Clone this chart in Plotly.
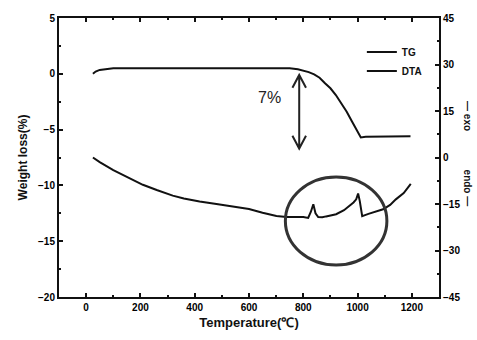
import plotly.graph_objects as go

# TG (weight loss, left axis)
tg_temp = [25, 35, 50, 75, 100, 150, 200, 300, 400, 500, 600, 650, 700, 750, 780, 800, 820, 840, 860,
           880, 900, 920, 940, 960, 980, 1000, 1012, 1030, 1100, 1150, 1195]
tg_weight = [0.0, 0.2, 0.35, 0.45, 0.5, 0.5, 0.5, 0.5, 0.5, 0.5, 0.52, 0.55, 0.55, 0.5, 0.4, 0.3, 0.15,
             -0.05, -0.35, -0.85, -1.3, -1.9, -2.6, -3.4, -4.3, -5.2, -5.7, -5.65, -5.6, -5.6, -5.6]

# DTA (right axis)
dta_temp = [25, 50, 100, 150, 209, 260, 319, 360, 418, 480, 540, 600, 650, 701, 738, 770, 800, 818, 828,
            837, 845, 855, 870, 884, 921, 950, 969, 985, 995, 1002, 1008, 1017, 1040, 1070, 1094, 1120,
            1141, 1170, 1196]
dta_value = [0, -1.5, -4.1, -6.3, -8.8, -10.5, -12.3, -13.2, -14.2, -15.0, -15.7, -16.6, -17.8, -18.9,
             -19.2, -19.3, -19.2, -19.5, -17.5, -15.1, -18.0, -19.2, -19.3, -19.0, -18.3, -17.0, -15.7,
             -14.5, -13.5, -11.6, -14.0, -18.9, -18.2, -17.4, -16.7, -15.3, -13.5, -11.5, -8.5]

x_ticks = [0, 200, 400, 600, 800, 1000, 1200]
y_ticks = [5, 0, -5, -10, -15, -20]
y2_ticks = [45, 30, 15, 0, -15, -30, -45]

BOLD = dict(family="Liberation Sans", size=10, color="#000", weight="bold")

fig = go.Figure()
fig.add_trace(go.Scatter(x=tg_temp, y=tg_weight, mode="lines", name="TG",
                         line=dict(color="#111", width=2)))
fig.add_trace(go.Scatter(x=dta_temp, y=dta_value, mode="lines", name="DTA", yaxis="y2",
                         line=dict(color="#111", width=2)))

# circle around DTA peaks
fig.add_shape(type="circle", xref="x", yref="y2", x0=734, x1=1108, y0=-34.7, y1=-6.3,
              line=dict(color="#333", width=3))
# double arrow (7%)
fig.add_shape(type="path", xref="x", yref="y",
              path="M 785,-0.1 L 785,-6.7 M 760,-1.25 L 785,-0.1 L 810,-1.25 "
                   "M 760,-5.55 L 785,-6.7 L 810,-5.55",
              line=dict(color="#222", width=2))
fig.add_annotation(x=675, y=-2.1, xref="x", yref="y", text="7%", showarrow=False,
                   font=dict(family="Liberation Sans", size=16, color="#222"))

fig.add_annotation(x=1.095, y=0.65, xref="paper", yref="paper", text="— exo", textangle=90,
                   showarrow=False, font=dict(family="Liberation Sans", size=10, color="#111", weight="bold"))
fig.add_annotation(x=1.095, y=0.39, xref="paper", yref="paper", text="endo —", textangle=90,
                   showarrow=False, font=dict(family="Liberation Sans", size=10, color="#111", weight="bold"))

axis_common = dict(showgrid=False, zeroline=False, showline=True, linecolor="#111", linewidth=2,
                   ticks="inside", ticklen=4, tickcolor="#111", tickwidth=1.5, tickfont=BOLD)

fig.update_layout(
    width=477, height=340,
    margin=dict(l=59, r=38, t=14, b=40),
    paper_bgcolor="white", plot_bgcolor="white",
    showlegend=True,
    legend=dict(x=0.797, y=0.93, xanchor="left", yanchor="top", bgcolor="rgba(0,0,0,0)",
                font=dict(family="Liberation Sans", size=10, color="#111", weight="bold"),
                tracegroupgap=0, itemwidth=30),
    xaxis=dict(range=[-100, 1300], tickvals=x_ticks, mirror="ticks",
               minor=dict(dtick=100, ticks="inside", ticklen=2, tickcolor="#111"),
               title=dict(text="Temperature(℃)", standoff=6,
                          font=dict(family="Liberation Sans", size=13, color="#111", weight="bold")),
               **axis_common),
    yaxis=dict(range=[-20, 5], tickvals=y_ticks,
               minor=dict(dtick=2.5, ticks="inside", ticklen=2, tickcolor="#111"),
               title=dict(text="Weight loss(%)", standoff=8,
                          font=dict(family="Liberation Sans", size=12, color="#111", weight="bold")),
               **axis_common),
    yaxis2=dict(range=[-45, 45], tickvals=y2_ticks, overlaying="y", side="right",
                minor=dict(dtick=7.5, ticks="inside", ticklen=2, tickcolor="#111"),
                **axis_common),
)

fig.write_html("out.html", config={"displayModeBar": False},
               post_script="document.body.style.margin='0';")
